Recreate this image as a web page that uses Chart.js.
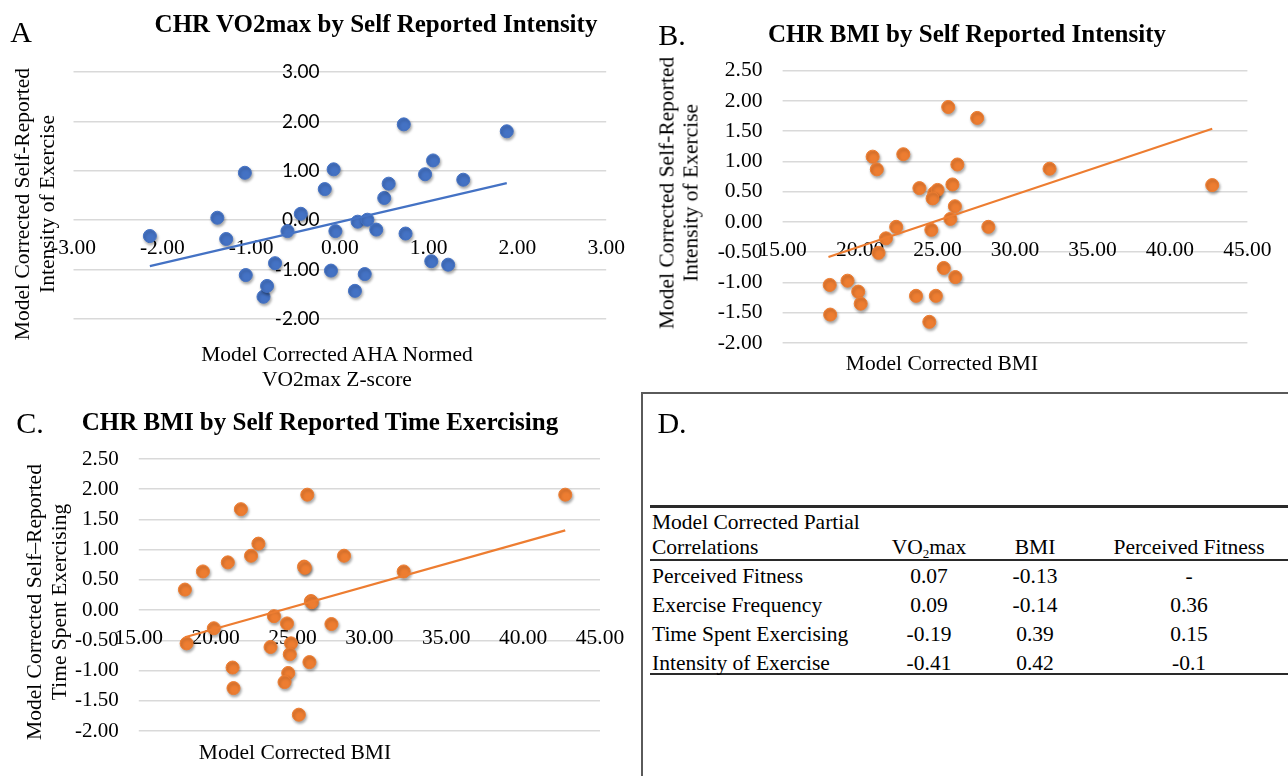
<!DOCTYPE html>
<html>
<head>
<meta charset="utf-8">
<script src="https://cdn.jsdelivr.net/npm/chart.js@4.4.0/dist/chart.umd.min.js"></script>
<style>
  body { margin:0; width:1288px; height:776px; background:#fff; position:relative; overflow:hidden;
         font-family:"Liberation Serif","Times New Roman",serif; color:#000; }
  canvas { position:absolute; }
  .abs { position:absolute; white-space:nowrap; }
  .letter { font-size:30px; transform:translate(-50%,-50%); }
  .ttl { font-size:25px; font-weight:bold; transform:translate(-50%,-50%); }
  .ax { font-size:21.5px; text-align:center; transform:translate(-50%,-50%); }
  .axr { font-size:21.5px; text-align:center; transform:translate(-50%,-50%) rotate(-90deg); }
  .tb { font-size:21.5px; line-height:24px; }
  .rule { position:absolute; background:#2a2a2a; }
</style>
</head>
<body>

<canvas id="chartA" width="640" height="390" style="left:0;top:0;width:640px;height:390px"></canvas>
<canvas id="chartB" width="648" height="390" style="left:640px;top:0;width:648px;height:390px"></canvas>
<canvas id="chartC" width="640" height="386" style="left:0;top:390px;width:640px;height:386px"></canvas>

<!-- panel A text -->
<div class="abs letter" style="left:21px;top:32px">A</div>
<div class="abs ttl" style="left:376px;top:24px">CHR VO2max by Self Reported Intensity</div>
<div class="abs axr" style="left:34px;top:204px;line-height:24.5px">Model Corrected Self-Reported<br>Intensity of Exercise</div>
<div class="abs ax" style="left:337px;top:367px;line-height:25px">Model Corrected AHA Normed<br>VO2max Z-score</div>

<!-- panel B text -->
<div class="abs letter" style="left:672px;top:35px">B.</div>
<div class="abs ttl" style="left:967px;top:34px">CHR BMI by Self Reported Intensity</div>
<div class="abs axr" style="left:679px;top:193px;line-height:23.5px">Model Corrected Self-Reported<br>Intensity of Exercise</div>
<div class="abs ax" style="left:942px;top:363px">Model Corrected BMI</div>

<!-- panel C text -->
<div class="abs letter" style="left:30px;top:423px">C.</div>
<div class="abs ttl" style="left:320px;top:422px">CHR BMI by Self Reported Time Exercising</div>
<div class="abs axr" style="left:46px;top:602px;line-height:24.5px">Model Corrected Self–Reported<br>Time Spent Exercising</div>
<div class="abs ax" style="left:295px;top:752px">Model Corrected BMI</div>

<!-- panel D -->
<div class="abs" style="left:641px;top:392px;width:660px;height:400px;border:2px solid #5a5a5a;box-sizing:border-box"></div>
<div class="abs letter" style="left:672px;top:423px">D.</div>
<div id="tableD"></div>

<script>
// panel A: VO2max z-score vs self-reported intensity
const aX = [-2.14, -1.38, -1.28, -1.07, -1.06, -0.86, -0.82, -0.73, -0.59, -0.44, -0.17, -0.07, -0.10, -0.05, 0.17,
            0.20, 0.28, 0.31, 0.41, 0.50, 0.55, 0.72, 0.74, 0.96, 1.05, 1.03, 1.22, 1.39, 1.88];
const aY = [-0.32, 0.05, -0.38, 0.96, -1.11, -1.55, -1.33, -0.87, -0.22, 0.13, 0.63, 1.03, -1.02, -0.22, -1.43,
            -0.03, -1.09, 0.01, -0.19, 0.45, 0.74, 1.94, -0.27, 0.93, 1.21, -0.83, -0.90, 0.82, 1.80];
const aTrendX = [-2.14, 1.88];
const aTrendY = [-0.93, 0.75];

// panel B: BMI vs self-reported intensity
const bX = [25.69, 27.56, 20.81, 21.08, 22.79, 26.28, 32.23, 42.73, 23.83, 24.79, 25.00, 24.68, 25.96, 26.12, 25.83,
            22.33, 24.60, 28.28, 21.67, 21.19, 25.40, 26.15, 18.04, 19.19, 19.88, 20.04, 23.61, 24.89, 18.07, 24.47];
const bY = [1.90, 1.72, 1.08, 0.87, 1.12, 0.95, 0.88, 0.61, 0.56, 0.48, 0.53, 0.39, 0.62, 0.26, 0.05,
            -0.08, -0.13, -0.08, -0.27, -0.51, -0.76, -0.91, -1.04, -0.97, -1.15, -1.35, -1.22, -1.22, -1.53, -1.65];
const bTrendX = [17.96, 42.73];
const bTrendY = [-0.58, 1.54];

// panel C: BMI vs self-reported time exercising
const cX = [25.96, 42.74, 21.64, 22.78, 22.30, 20.79, 28.35, 19.17, 25.75, 25.80, 32.23, 18.00, 26.20, 26.25,
            23.79, 24.64, 27.53, 19.88, 18.11, 23.57, 24.90, 24.82, 26.10, 21.10, 24.72, 24.48, 21.16, 25.41];
const cY = [1.91, 1.91, 1.67, 1.10, 0.90, 0.79, 0.90, 0.64, 0.72, 0.70, 0.64, 0.34, 0.15, 0.13,
            -0.10, -0.22, -0.23, -0.30, -0.55, -0.61, -0.55, -0.73, -0.86, -0.95, -1.04, -1.19, -1.29, -1.73];
const cTrendX = [18.00, 42.74];
const cTrendY = [-0.45, 1.32];

// panel D table
const rowLabels = ["Perceived Fitness", "Exercise Frequency", "Time Spent Exercising", "Intensity of Exercise"];
const colVO2 = ["0.07", "0.09", "-0.19", "-0.41"];
const colBMI = ["-0.13", "-0.14", "0.39", "0.42"];
const colFit = ["-", "0.36", "0.15", "-0.1"];

const BLUE = '#4472C4';
const ORANGE = '#ED7D31';
const SERIF = "'Liberation Serif', 'Times New Roman', serif";
const SANS = "Lato, 'Liberation Sans', sans-serif";

function pts(xs, ys) {
  return xs.map((x, i) => ({x: x, y: ys[i]}));
}

// soft drop shadow under the markers, like the Excel original
const markerShadow = {
  id: 'markerShadow',
  beforeDatasetDraw(chart, args) {
    if (args.index !== 1) return;
    const ctx = chart.ctx;
    ctx.save();
    ctx.shadowColor = 'rgba(0,0,0,0.35)';
    ctx.shadowBlur = 3;
    ctx.shadowOffsetX = 1;
    ctx.shadowOffsetY = 2;
  },
  afterDatasetDraw(chart, args) {
    if (args.index !== 1) return;
    chart.ctx.restore();
  }
};

// xr = [min, max, step, where y labels sit]; the label spot is a bit left of the crossing
// because tick padding is ignored for axes placed inside the chart area
function scatterChart(id, xs, ys, tx, ty, color, xr, yr, pad, yFont) {
  new Chart(id, {
    type: 'scatter',
    data: {
      datasets: [
        {data: pts(tx, ty), showLine: true, borderColor: color, borderWidth: 2.2, pointRadius: 0, fill: false},
        {data: pts(xs, ys), backgroundColor: color, borderColor: color, borderWidth: 1, pointRadius: 6.5}
      ]
    },
    options: {
      responsive: false,
      animation: false,
      layout: {padding: pad},
      plugins: {legend: {display: false}, tooltip: {enabled: false}},
      scales: {
        x: {
          type: 'linear', min: xr[0], max: xr[1], position: {y: 0},
          grid: {display: false, drawTicks: false},
          border: {display: false},
          ticks: {stepSize: xr[2], padding: 15, color: '#000', font: {family: SERIF, size: 21.5}, maxRotation: 0,
                  callback: v => v.toFixed(2)}
        },
        y: {
          type: 'linear', min: yr[0], max: yr[1], position: {x: xr[3]},
          grid: {color: '#d9d9d9', lineWidth: 1.5, drawTicks: false},
          border: {display: false},
          ticks: {stepSize: yr[2], padding: 20, color: '#000', font: yFont,
                  callback: v => v.toFixed(2)}
        }
      }
    },
    plugins: [markerShadow]
  });
}

scatterChart('chartA', aX, aY, aTrendX, aTrendY, BLUE, [-3, 3, 1, -0.23], [-2, 3, 1],
             {left: 73.5, right: 32, top: 72, bottom: 71}, {family: SANS, size: 19});
scatterChart('chartB', bX, bY, bTrendX, bTrendY, ORANGE, [15, 45, 5, 13.7], [-2, 2.5, 0.5],
             {left: 142.6, right: 40.6, top: 70.7, bottom: 47}, {family: SERIF, size: 21.5});
scatterChart('chartC', cX, cY, cTrendX, cTrendY, ORANGE, [15, 45, 5, 13.7], [-2, 2.5, 0.5],
             {left: 138.8, right: 40, top: 69, bottom: 45}, {family: SERIF, size: 21});

// table D
const tbl = document.getElementById('tableD');
function txt(s, x, baseline, align) {
  const d = document.createElement('div');
  d.className = 'abs tb';
  d.innerHTML = s;
  d.style.top = (baseline - 18.4) + 'px';
  d.style.left = x + 'px';
  if (align === 'center') d.style.transform = 'translateX(-50%)';
  tbl.appendChild(d);
}
function rule(y, h) {
  const r = document.createElement('div');
  r.className = 'rule';
  r.style.left = '650px';
  r.style.width = '640px';
  r.style.top = y + 'px';
  r.style.height = h + 'px';
  tbl.appendChild(r);
}
const colX = [929, 1035, 1189];
rule(505, 2.5);
rule(558.5, 2);
rule(672.5, 2.5);
txt("Model Corrected Partial", 652, 528);
txt("Correlations", 652, 553);
txt("VO<sub style='font-size:13px;vertical-align:-4px;line-height:0'>2</sub>max", colX[0], 553, 'center');
txt("BMI", colX[1], 553, 'center');
txt("Perceived Fitness", colX[2], 553, 'center');
rowLabels.forEach((lab, i) => {
  const base = 582.5 + 29 * i;
  txt(lab, 652, base);
  txt(colVO2[i], colX[0], base, 'center');
  txt(colBMI[i], colX[1], base, 'center');
  txt(colFit[i], colX[2], base, 'center');
});
</script>
</body>
</html>
